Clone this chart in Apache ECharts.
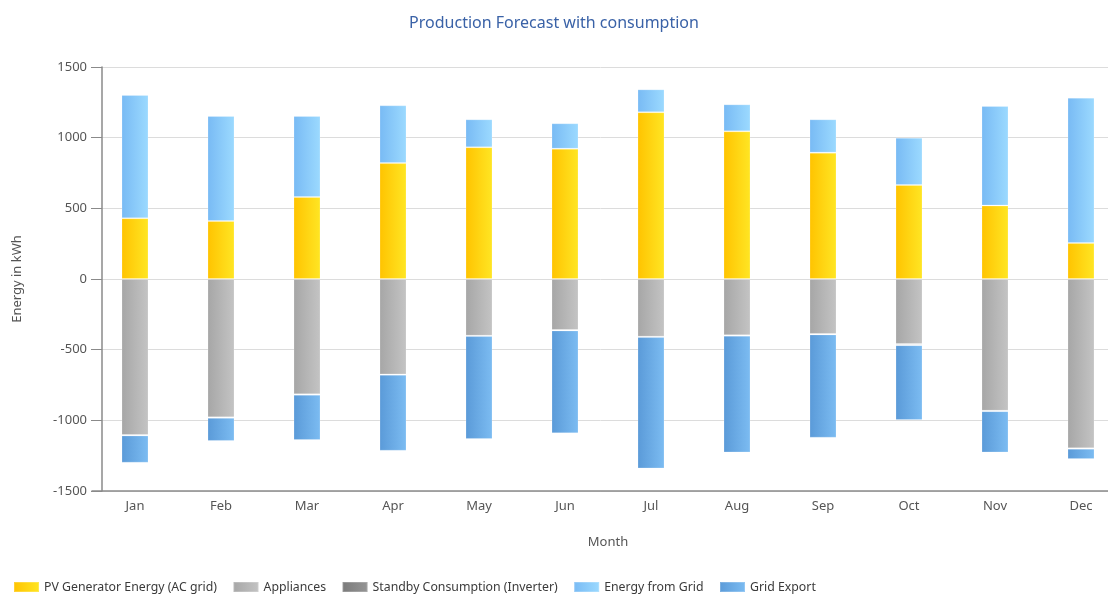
<!DOCTYPE html>
<html>
<head>
<meta charset="utf-8">
<title>Production Forecast with consumption</title>
<script src="https://cdn.jsdelivr.net/npm/echarts@6/dist/echarts.min.js"></script>
<style>
  html, body { margin: 0; padding: 0; background: #fff; }
  #chart { width: 1108px; height: 594px; }
</style>
</head>
<body>
<div id="chart"></div>
<script>
// monthly values, kWh
const months = ["Jan", "Feb", "Mar", "Apr", "May", "Jun", "Jul", "Aug", "Sep", "Oct", "Nov", "Dec"];
const pvEnergy = [430, 410, 580, 820, 932, 922, 1180, 1045, 894, 665, 520, 255];
const appliances = [-1104, -979, -816, -675, -401, -361, -408, -398, -389, -460, -932, -1198];
const standby = [-3, -3, -3, -3, -3, -3, -3, -3, -3, -8, -3, -3];
const fromGrid = [872, 743, 573, 409, 198, 180, 162, 191, 236, 335, 704, 1028];
const gridExport = [-193, -164, -320, -537, -728, -728, -929, -826, -731, -530, -292, -73];
const yTicks = [-1500, -1000, -500, 0, 500, 1000, 1500];

const FONT = "Noto Sans";

function grad(left, right) {
  return new echarts.graphic.LinearGradient(0, 0, 1, 0, [
    { offset: 0, color: left },
    { offset: 1, color: right },
  ]);
}

function barSeries(name, data, left, right) {
  return {
    name: name,
    type: "bar",
    stack: "energy",
    data: data,
    barWidth: 27,
    itemStyle: {
      color: grad(left, right),
      borderColor: "rgba(255,255,255,0.2)",
      borderWidth: 1,
    },
  };
}

const chart = echarts.init(document.getElementById("chart"), null, { renderer: "canvas" });

chart.setOption({
  animation: false,
  textStyle: { fontFamily: FONT },
  title: {
    text: "Production Forecast with consumption",
    left: "center",
    top: 10,
    textStyle: { color: "#3a62a7", fontSize: 16, fontWeight: "normal", fontFamily: FONT },
  },
  legend: {
    left: 8,
    top: 576,
    itemWidth: 25,
    itemHeight: 10,
    itemGap: 15.5,
    icon: "rect",
    textStyle: { color: "#3a3a3a", fontSize: 12.3, fontFamily: FONT },
  },
  grid: { left: 92, top: 67, width: 1032, height: 424, outerBoundsMode: "none" },
  xAxis: {
    type: "category",
    data: months,
    name: "Month",
    nameLocation: "middle",
    nameGap: 45,
    nameTextStyle: { color: "#555", fontSize: 13 },
    axisLine: { onZero: false, lineStyle: { color: "#8a8a8a", width: 1.5 } },
    axisTick: { alignWithLabel: true, length: 5, lineStyle: { color: "#8a8a8a" } },
    axisLabel: { color: "#555", fontSize: 13, margin: 9 },
  },
  yAxis: {
    type: "value",
    min: yTicks[0],
    max: yTicks[yTicks.length - 1],
    interval: 500,
    offset: -10,
    name: "Energy in kWh",
    nameLocation: "middle",
    nameGap: 78,
    nameTextStyle: { color: "#555", fontSize: 13 },
    axisLine: { show: true, lineStyle: { color: "#8a8a8a", width: 1.5 } },
    axisTick: { show: true, length: 11, lineStyle: { color: "#8a8a8a" } },
    axisLabel: { color: "#555", fontSize: 13, margin: 15, formatter: (v) => String(v) },
    splitLine: { lineStyle: { color: "#dcdcdc", width: 1 } },
  },
  series: [
    barSeries("PV Generator Energy (AC grid)", pvEnergy, "#ffc300", "#ffe624"),
    barSeries("Appliances", appliances, "#a6a6a6", "#c4c4c4"),
    barSeries("Standby Consumption (Inverter)", standby, "#7a7a7a", "#969696"),
    barSeries("Energy from Grid", fromGrid, "#78baf4", "#9cdaff"),
    barSeries("Grid Export", gridExport, "#5a9ad8", "#7cbcf2"),
  ],
});

window.addEventListener("resize", () => chart.resize());
</script>
</body>
</html>
